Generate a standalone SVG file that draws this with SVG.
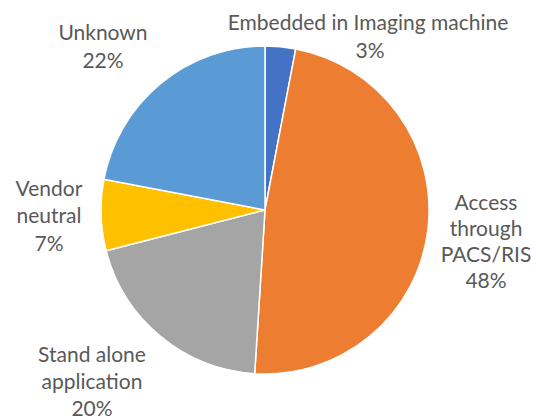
<svg xmlns="http://www.w3.org/2000/svg" width="536" height="420" viewBox="0 0 536 420">
  <style>
    .slice { stroke: #ffffff; stroke-width: 1.5; stroke-linejoin: round; }
    .lbl { font-family: Lato, "Open Sans", "Liberation Sans", sans-serif; font-size: 21px; fill: #595959; text-anchor: middle; }
  </style>
  <rect width="536" height="420" fill="#ffffff"/>
  <g id="slice-embedded">
    <path class="slice" fill="#4472C4" d="M265,210 L265,46 A164,164 0 0,1 295.73,48.90 Z"/>
  </g>
  <g id="slice-access">
    <path class="slice" fill="#ED7D31" d="M265,210 L295.73,48.90 A164,164 0 0,1 254.70,373.68 Z"/>
  </g>
  <g id="slice-standalone">
    <path class="slice" fill="#A5A5A5" d="M265,210 L254.70,373.68 A164,164 0 0,1 106.15,250.79 Z"/>
  </g>
  <g id="slice-vendor">
    <path class="slice" fill="#FFC000" d="M265,210 L106.15,250.79 A164,164 0 0,1 103.90,179.27 Z"/>
  </g>
  <g id="slice-unknown">
    <path class="slice" fill="#5B9BD5" d="M265,210 L103.90,179.27 A164,164 0 0,1 265,46 Z"/>
  </g>
  <g id="label-embedded">
    <text class="lbl" x="368" y="30">Embedded in Imaging machine</text>
    <text class="lbl" x="370" y="58">3%</text>
  </g>
  <g id="label-unknown">
    <text class="lbl" x="103" y="40">Unknown</text>
    <text class="lbl" x="103" y="68">22%</text>
  </g>
  <g id="label-vendor">
    <text class="lbl" x="49" y="196">Vendor</text>
    <text class="lbl" x="49" y="223">neutral</text>
    <text class="lbl" x="49" y="251">7%</text>
  </g>
  <g id="label-access">
    <text class="lbl" x="486" y="210">Access</text>
    <text class="lbl" x="486" y="236">through</text>
    <text class="lbl" x="486" y="262">PACS/RIS</text>
    <text class="lbl" x="486" y="288">48%</text>
  </g>
  <g id="label-standalone">
    <text class="lbl" x="92" y="362">Stand alone</text>
    <text class="lbl" x="92" y="389">application</text>
    <text class="lbl" x="92" y="416">20%</text>
  </g>
</svg>
